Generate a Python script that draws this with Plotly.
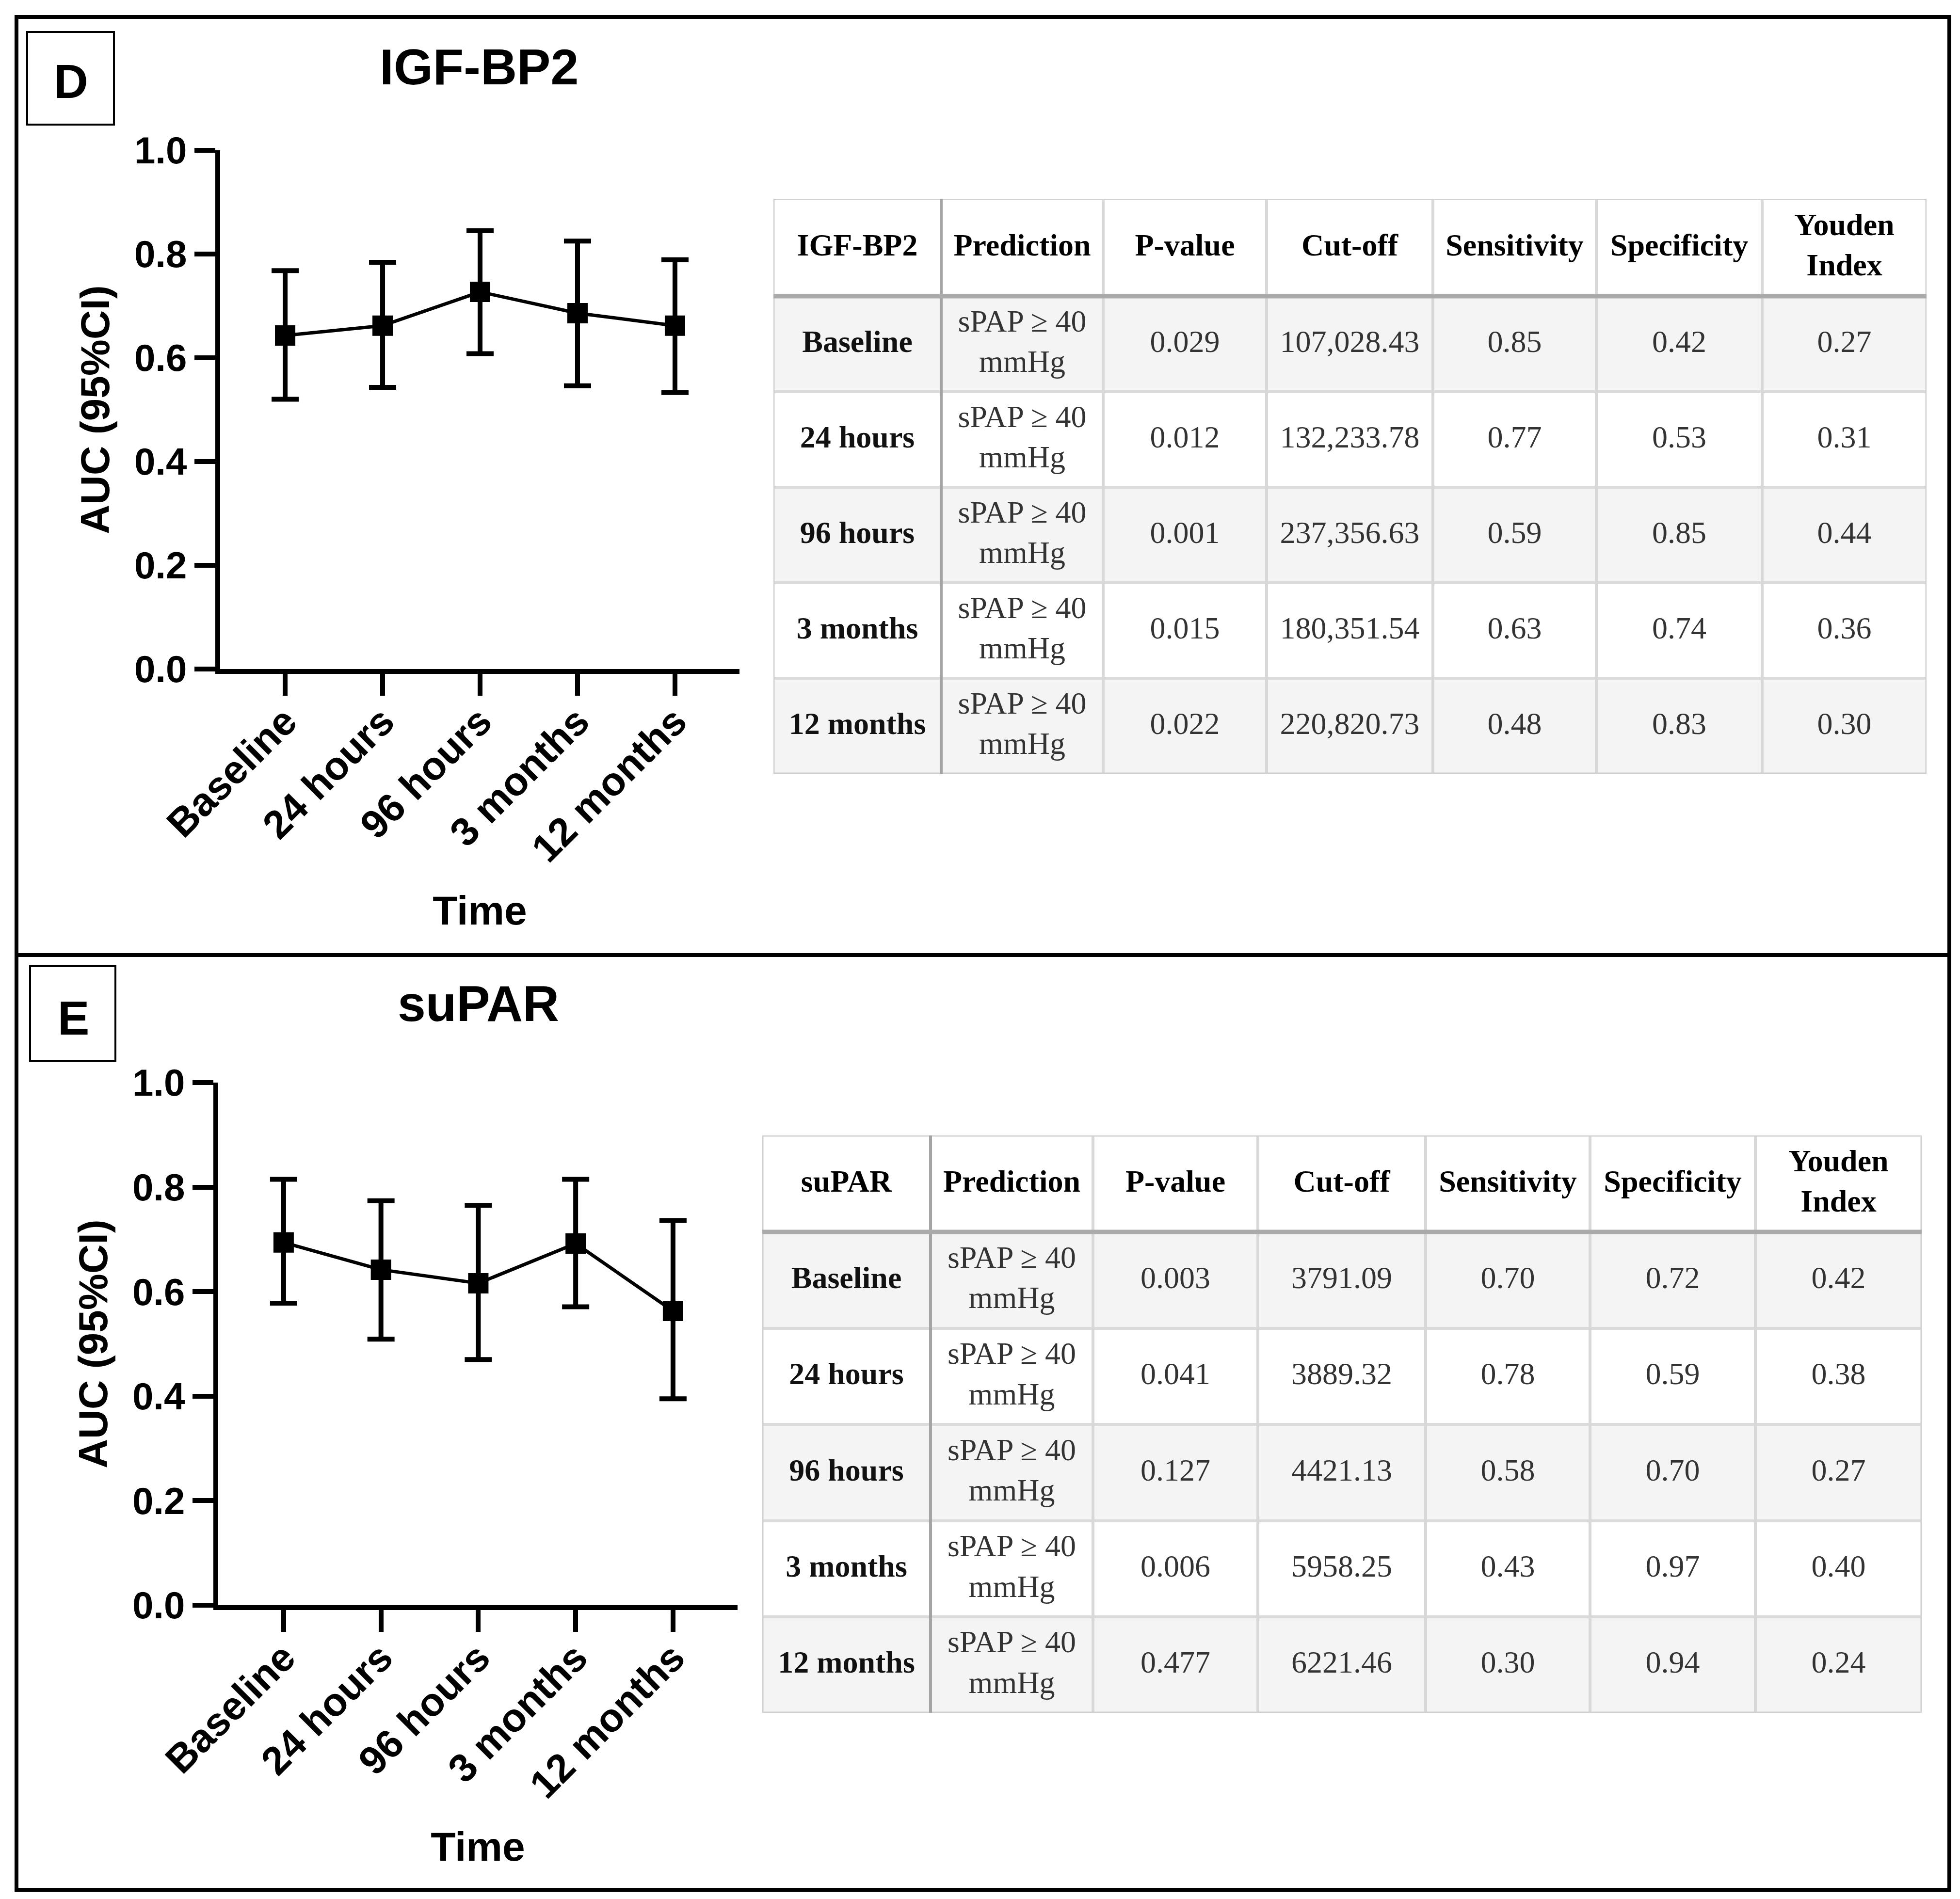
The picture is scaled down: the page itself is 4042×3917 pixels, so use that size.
import numpy as np
import plotly.graph_objects as go

W, H = 4042, 3917

# ---------------- data ----------------
times = ["Baseline", "24 hours", "96 hours", "3 months", "12 months"]

igf_auc = [0.643, 0.662, 0.727, 0.686, 0.662]
igf_lo = [0.520, 0.543, 0.608, 0.546, 0.533]
igf_hi = [0.768, 0.784, 0.845, 0.825, 0.789]

supar_auc = [0.694, 0.642, 0.616, 0.692, 0.563]
supar_lo = [0.578, 0.509, 0.470, 0.571, 0.395]
supar_hi = [0.815, 0.774, 0.765, 0.815, 0.736]

y_ticks = [0.0, 0.2, 0.4, 0.6, 0.8, 1.0]
y_tick_labels = ["0.0", "0.2", "0.4", "0.6", "0.8", "1.0"]

header_common = ["Prediction", "P-value", "Cut-off", "Sensitivity", "Specificity", "Youden<br>Index"]
prediction = ["sPAP ≥ 40<br>mmHg"] * 5

igf_p = ["0.029", "0.012", "0.001", "0.015", "0.022"]
igf_cutoff = ["107,028.43", "132,233.78", "237,356.63", "180,351.54", "220,820.73"]
igf_sens = ["0.85", "0.77", "0.59", "0.63", "0.48"]
igf_spec = ["0.42", "0.53", "0.85", "0.74", "0.83"]
igf_youden = ["0.27", "0.31", "0.44", "0.36", "0.30"]

supar_p = ["0.003", "0.041", "0.127", "0.006", "0.477"]
supar_cutoff = ["3791.09", "3889.32", "4421.13", "5958.25", "6221.46"]
supar_sens = ["0.70", "0.78", "0.58", "0.43", "0.30"]
supar_spec = ["0.72", "0.59", "0.70", "0.97", "0.94"]
supar_youden = ["0.42", "0.38", "0.27", "0.40", "0.24"]

# ---------------- helpers ----------------
def px(x):
    return x / W


def py(y):
    return 1 - y / H


SANS = "Liberation Sans, Arial, Helvetica, sans-serif"
SERIF = "Liberation Serif, Times New Roman, serif"

fig = go.Figure()
shapes = []
annotations = []


def add_chart(auc, lo, hi, n, xdom, ydom, xrng):
    xa, ya = ("x" if n == 1 else f"x{n}"), ("y" if n == 1 else f"y{n}")
    fig.add_trace(go.Scatter(
        x=times, y=auc, mode="lines+markers", xaxis=xa, yaxis=ya,
        line=dict(color="black", width=7),
        marker=dict(symbol="square", size=42, color="black"),
        error_y=dict(type="data", symmetric=False,
                     array=[h - a for h, a in zip(hi, auc)],
                     arrayminus=[a - l for a, l in zip(auc, lo)],
                     color="black", thickness=10, width=28),
        hoverinfo="skip", showlegend=False, cliponaxis=False))
    suffix = "" if n == 1 else str(n)
    fig.update_layout(**{
        f"xaxis{suffix}": dict(
            domain=xdom, range=xrng, type="category", anchor=ya, automargin=False,
            showline=True, linewidth=10, linecolor="black",
            ticks="outside", ticklen=45, tickwidth=10, tickcolor="black",
            tickangle=-45, ticklabelstandoff=-28,
            tickfont=dict(family=SANS, size=82, color="black", weight="bold"),
            showgrid=False, zeroline=False, fixedrange=True,
            title=dict(text="Time", font=dict(family=SANS, size=84, color="black", weight="bold"),
                       standoff=58)),
        f"yaxis{suffix}": dict(
            domain=ydom, range=[0, 1], anchor=xa, automargin=False,
            tickvals=y_ticks, ticktext=y_tick_labels,
            showline=True, linewidth=10, linecolor="black",
            ticks="outside", ticklen=43, tickwidth=10, tickcolor="black",
            tickfont=dict(family=SANS, size=78, color="black", weight="bold"),
            showgrid=False, zeroline=False, fixedrange=True,
            title=dict(text="AUC (95%CI)", font=dict(family=SANS, size=84, color="black", weight="bold"),
                       standoff=28)),
    })


def add_table(header, columns, n, x0, y0, colw, rowh):
    xa, ya = f"x{n}", f"y{n}"
    col_edges = np.concatenate([[0], np.cumsum(colw)])
    row_edges = np.concatenate([[0], np.cumsum(rowh)])
    tw, th = col_edges[-1], row_edges[-1]
    ncol, nrow = len(colw), len(rowh)
    z = [[0] * ncol] + [[r % 2] * ncol for r in range(1, nrow)]
    fig.add_trace(go.Heatmap(
        x=col_edges, y=row_edges, z=z, xaxis=xa, yaxis=ya,
        colorscale=[[0, "#ffffff"], [1, "#f4f4f4"]], zmin=0, zmax=1,
        showscale=False, hoverinfo="skip"))
    tx, ty, tt, tc = [], [], [], []
    for r in range(nrow):
        for c in range(ncol):
            tx.append((col_edges[c] + col_edges[c + 1]) / 2)
            ty.append((row_edges[r] + row_edges[r + 1]) / 2)
            if r == 0:
                tt.append(f"<b>{header[c]}</b>")
                tc.append("#000000")
            elif c == 0:
                tt.append(f"<b>{columns[0][r - 1]}</b>")
                tc.append("#111111")
            else:
                tt.append(columns[c][r - 1])
                tc.append("#333333")
    fig.add_trace(go.Scatter(
        x=tx, y=ty, text=tt, mode="text", xaxis=xa, yaxis=ya,
        textposition="middle center",
        textfont=dict(family=SERIF, size=64, color=tc),
        hoverinfo="skip", showlegend=False, cliponaxis=False))
    # grid lines
    for r in range(2, nrow):
        shapes.append(dict(type="line", xref=xa, yref=ya, x0=0, x1=tw,
                           y0=row_edges[r], y1=row_edges[r],
                           line=dict(color="#dadada", width=6)))
    for c in range(2, ncol):
        shapes.append(dict(type="line", xref=xa, yref=ya, x0=col_edges[c], x1=col_edges[c],
                           y0=0, y1=th, line=dict(color="#d8d8d8", width=6)))
    shapes.append(dict(type="rect", xref=xa, yref=ya, x0=0, x1=tw, y0=0, y1=th,
                       line=dict(color="#d0d0d0", width=5)))
    shapes.append(dict(type="line", xref=xa, yref=ya, x0=col_edges[1], x1=col_edges[1],
                       y0=0, y1=th, line=dict(color="#a4a4a4", width=6)))
    shapes.append(dict(type="line", xref=xa, yref=ya, x0=0, x1=tw,
                       y0=row_edges[1], y1=row_edges[1],
                       line=dict(color="#ababab", width=9)))
    fig.update_layout(**{
        f"xaxis{n}": dict(domain=[px(x0), px(x0 + tw)], range=[0, tw], visible=False,
                          fixedrange=True, anchor=ya, automargin=False),
        f"yaxis{n}": dict(domain=[py(y0 + th), py(y0)], range=[th, 0], visible=False,
                          fixedrange=True, anchor=xa, automargin=False),
    })


# ---------------- charts ----------------
add_chart(igf_auc, igf_lo, igf_hi, 1,
          [px(446), px(1517)], [py(1372), py(302)], [-0.667, 4.662])
add_chart(supar_auc, supar_lo, supar_hi, 2,
          [px(442), px(1513)], [py(3303), py(2225)], [-0.672, 4.663])

# ---------------- tables ----------------
add_table(["IGF-BP2"] + header_common,
          [times, prediction, igf_p, igf_cutoff, igf_sens, igf_spec, igf_youden],
          3, 1587, 402, [346, 334, 337, 343, 337, 342, 339], [201, 197, 197, 197, 197, 197])
add_table(["suPAR"] + header_common,
          [times, prediction, supar_p, supar_cutoff, supar_sens, supar_spec, supar_youden],
          4, 1564, 2334, [347, 335, 340, 346, 339, 341, 343], [199, 199, 198, 199, 198, 198])

# ---------------- frame, panel labels, titles ----------------
shapes.append(dict(type="rect", xref="paper", yref="paper", x0=px(26), x1=px(4012),
                   y0=py(3890), y1=py(27), line=dict(color="black", width=8)))
shapes.append(dict(type="line", xref="paper", yref="paper", x0=px(26), x1=px(4012),
                   y0=py(1962), y1=py(1962), line=dict(color="black", width=8)))
shapes.append(dict(type="rect", xref="paper", yref="paper", x0=px(48), x1=px(227),
                   y0=py(249), y1=py(58), line=dict(color="black", width=4)))
shapes.append(dict(type="rect", xref="paper", yref="paper", x0=px(54), x1=px(230),
                   y0=py(2180), y1=py(1985), line=dict(color="black", width=4)))

for text, x, y, size in [("D", 138, 160, 98), ("E", 143, 2092, 98),
                         ("IGF-BP2", 980, 130, 104), ("suPAR", 978, 2062, 104)]:
    annotations.append(dict(text=text, x=px(x), y=py(y), xref="paper", yref="paper",
                            xanchor="center", yanchor="middle", showarrow=False,
                            font=dict(family=SANS, size=size, color="black", weight="bold")))

fig.update_layout(
    template="none",
    width=W, height=H, margin=dict(l=0, r=0, t=0, b=0, pad=0, autoexpand=False),
    paper_bgcolor="white", plot_bgcolor="white",
    showlegend=False, hovermode=False,
    shapes=shapes, annotations=annotations,
)

fig.write_html("out.html")
